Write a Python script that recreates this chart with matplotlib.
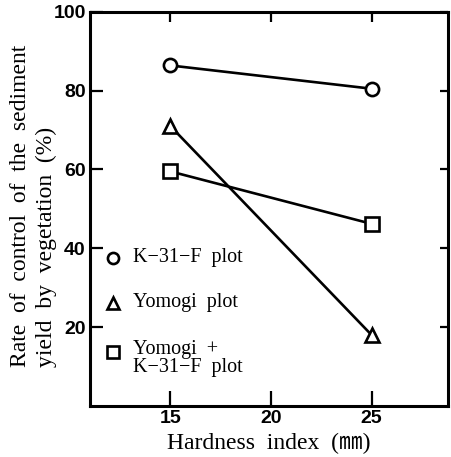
import matplotlib.pyplot as plt

hardness = [15, 25]
k31f = [86.4, 80.5]
yomogi = [71.0, 18.0]
yomogi_k31f = [59.5, 46.2]

series_labels = ['K\u221231\u2212F  plot', 'Yomogi  plot', 'Yomogi  +\nK\u221231\u2212F  plot']
series_markers = ['o', '^', 's']

serif = ['Liberation Serif', 'DejaVu Serif']

fig = plt.figure(figsize=(4.52, 4.57), dpi=100)
ax = fig.add_axes([0.199, 0.112, 0.792, 0.862])

for yvals, mk in zip([k31f, yomogi, yomogi_k31f], series_markers):
    ax.plot(hardness, yvals, color='black', lw=1.9, marker=mk, ms=9.5,
            mfc='white', mec='black', mew=1.9, zorder=3)

ax.set_xlim(11.0, 28.8)
ax.set_ylim(0, 100)
ax.set_xticks([15, 20, 25])
ax.set_yticks([20, 40, 60, 80, 100])

for s in ax.spines.values():
    s.set_linewidth(2.2)

ax.tick_params(axis='x', direction='in', length=11, width=1.6, top=True, pad=3)
ax.tick_params(axis='y', direction='in', length=9.5, width=1.6, right=True, pad=3)
# shorter ticks on the top and right frame
for t in ax.xaxis.get_major_ticks():
    t.tick2line.set_markersize(7.5)
for t in ax.yaxis.get_major_ticks():
    t.tick2line.set_markersize(6)

for lab in ax.get_xticklabels() + ax.get_yticklabels():
    lab.set_fontfamily(['Liberation Sans', 'DejaVu Sans'])
    lab.set_fontweight('bold')
    lab.set_fontsize(14)

ax.set_xlabel('Hardness  index  (\u339c)', family=['Liberation Serif', 'Noto Sans CJK JP'],
              fontsize=17, va='top')
ax.xaxis.set_label_coords(0.5, -0.068)

ax.set_ylabel('Rate  of  control  of  the  sediment\nyield  by  vegetation  (%)',
              family=serif, fontsize=17, linespacing=1.3, ha='left',
              multialignment='left')
ax.yaxis.set_label_coords(-0.092, 0.099)

# legend drawn by hand, marker beside the first text line
leg_rows = [0.376, 0.261, 0.137]
for lab, mk, yy in zip(series_labels, series_markers, leg_rows):
    ax.plot([0.064], [yy], marker=mk, ms=8, mfc='white', mec='black', mew=1.9,
            transform=ax.transAxes, clip_on=False)
    if '\n' in lab:
        ax.text(0.12, yy + 0.029, lab, transform=ax.transAxes, family=serif,
                fontsize=14.5, va='top', linespacing=0.88)
    else:
        ax.text(0.12, yy, lab, transform=ax.transAxes, family=serif,
                fontsize=14.5, va='center')

fig.savefig('out.png', dpi=100)
